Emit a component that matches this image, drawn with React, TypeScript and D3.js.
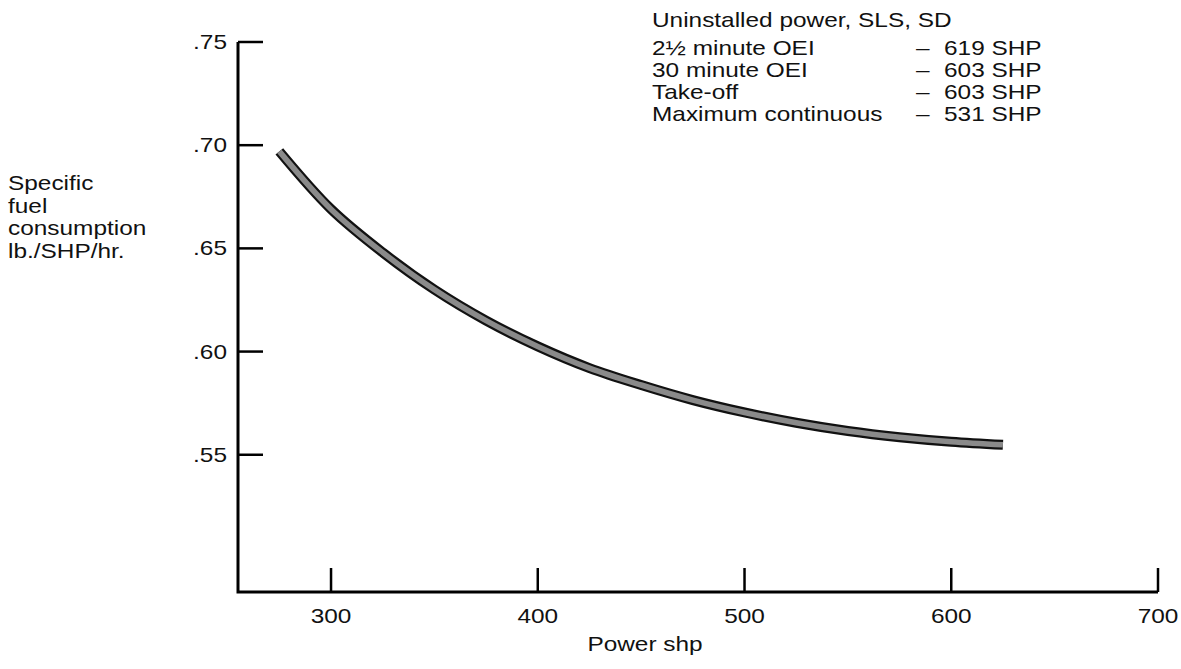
import React from "react";
import * as d3 from "d3";

// power (shp) vs specific fuel consumption (lb/SHP/hr)
const power = [275, 300, 325, 350, 375, 400, 425, 450, 475, 500, 525, 550, 575, 600, 625];
const sfc = [0.697, 0.669, 0.648, 0.63, 0.615, 0.6025, 0.592, 0.5838, 0.5765, 0.5705, 0.5655, 0.5615, 0.5585, 0.5563, 0.5548];

const xTicks = [300, 400, 500, 600, 700];
const yTicks = [0.75, 0.7, 0.65, 0.6, 0.55];

const yLabelLines = ["Specific", "fuel", "consumption", "lb./SHP/hr."];
const legendTitle = "Uninstalled power, SLS, SD";
const ratingNames = ["2\u00BD minute OEI", "30 minute OEI", "Take-off", "Maximum continuous"];
const ratingValues = ["619 SHP", "603 SHP", "603 SHP", "531 SHP"];

const W = 1181;
const H = 669;
const left = 238;
const right = 1158;
const top = 42;
const bottom = 592;
const SX = 1.22; // the scan is stretched sideways
const font = "'Liberation Sans', Arial, Helvetica, sans-serif";

function T({ x, y, anchor = "start", children }: any) {
  return (
    <text
      transform={`translate(${x},${y}) scale(${SX},1)`}
      textAnchor={anchor}
      fontSize={20}
      fontFamily={font}
      fill="#111"
    >
      {children}
    </text>
  );
}

export default function App() {
  const x = d3.scaleLinear().domain([255, 700]).range([left, right]);
  const y = d3.scaleLinear().domain([0.4835, 0.75]).range([bottom, top]);

  const pts: [number, number][] = power.map((p, i) => [x(p), y(sfc[i])]);
  const line = d3.line().curve(d3.curveCatmullRom.alpha(0.5))(pts) || "";

  return (
    <svg width={W} height={H} style={{ position: "absolute", left: 0, top: 0, background: "#fff" }}>
      {/* axes */}
      <path
        d={`M${left},${top}V${bottom}H${right}`}
        fill="none"
        stroke="#000"
        strokeWidth={3}
        strokeLinejoin="miter"
      />
      {yTicks.map((t) => (
        <g key={t}>
          <line x1={left} x2={left + 25} y1={y(t)} y2={y(t)} stroke="#000" strokeWidth={2.5} />
          <T x={left - 11} y={y(t) + 7} anchor="end">
            {d3.format(".2f")(t).replace(/^0/, "")}
          </T>
        </g>
      ))}
      {xTicks.map((t) => (
        <g key={t}>
          <line x1={x(t)} x2={x(t)} y1={bottom} y2={bottom - 24} stroke="#000" strokeWidth={2.5} />
          <T x={x(t)} y={bottom + 31} anchor="middle">
            {t}
          </T>
        </g>
      ))}
      <T x={645} y={651} anchor="middle">
        Power shp
      </T>
      {yLabelLines.map((s, i) => (
        <T key={s} x={8} y={190 + i * 22.5}>
          {s}
        </T>
      ))}

      {/* curve */}
      <path d={line} fill="none" stroke="#111" strokeWidth={10} strokeLinecap="butt" />
      <path d={line} fill="none" stroke="#8a8a8a" strokeWidth={5.5} strokeLinecap="butt" />

      {/* ratings */}
      <T x={652} y={27}>
        {legendTitle}
      </T>
      {ratingNames.map((n, i) => (
        <g key={n}>
          <T x={652} y={55 + i * 22}>
            {n}
          </T>
          <T x={916} y={55 + i * 22}>
            {"\u2013"}
          </T>
          <T x={944} y={55 + i * 22}>
            {ratingValues[i]}
          </T>
        </g>
      ))}
    </svg>
  );
}
